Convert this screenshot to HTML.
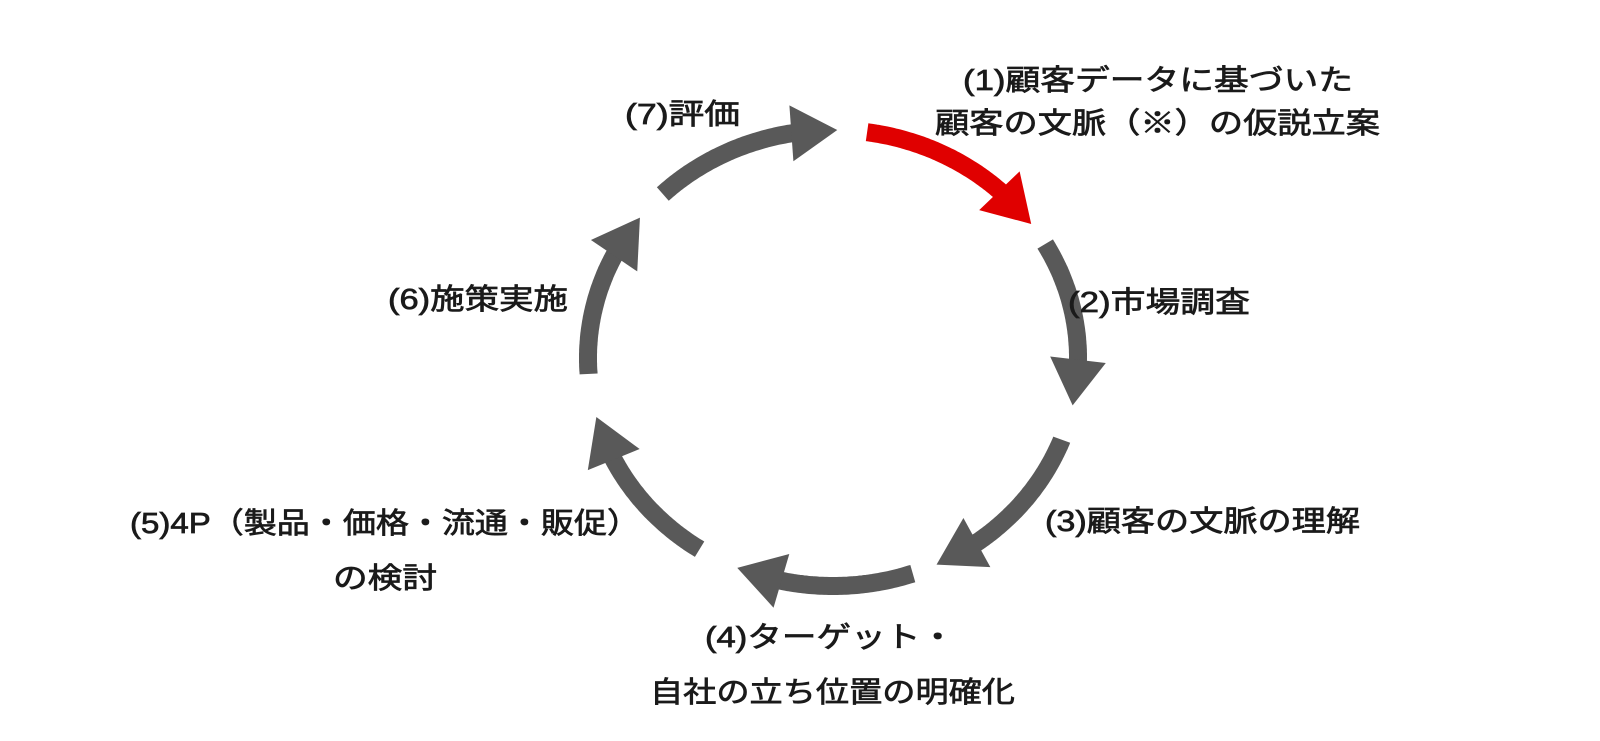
<!DOCTYPE html>
<html><head><meta charset="utf-8"><style>
html,body{margin:0;padding:0;background:#fff;}
svg{display:block;}
text{font-family:"Liberation Sans","Noto Sans CJK JP",sans-serif;font-size:29px;font-weight:normal;fill:#1a1a1a;stroke:#1a1a1a;stroke-width:0.7px;}
</style></head><body>
<svg id="s" width="1600" height="741" viewBox="0 0 1600 741" xmlns="http://www.w3.org/2000/svg">
<g id="arrows"></g>
<text x="963" y="90" textLength="390" lengthAdjust="spacingAndGlyphs">(1)顧客データに基づいた</text>
<text x="935" y="133" textLength="445" lengthAdjust="spacingAndGlyphs">顧客の文脈（※）の仮説立案</text>
<text x="625" y="124" textLength="115" lengthAdjust="spacingAndGlyphs">(7)評価</text>
<text x="1068" y="312" textLength="182" lengthAdjust="spacingAndGlyphs">(2)市場調査</text>
<text x="388" y="309" textLength="180" lengthAdjust="spacingAndGlyphs">(6)施策実施</text>
<text x="1045" y="531" textLength="315" lengthAdjust="spacingAndGlyphs">(3)顧客の文脈の理解</text>
<text x="130" y="533" textLength="510" lengthAdjust="spacingAndGlyphs">(5)4P（製品・価格・流通・販促）</text>
<text x="333" y="588" textLength="104" lengthAdjust="spacingAndGlyphs">の検討</text>
<text x="705" y="647" textLength="250" lengthAdjust="spacingAndGlyphs">(4)ターゲット・</text>
<text x="650" y="702" textLength="365" lengthAdjust="spacingAndGlyphs">自社の立ち位置の明確化</text>
</svg>
<script>
(function(){
var cx=833,cy=358,rx=245,ry=228,sw=18,hl=46,hw=28;
var segs=[[-82,-36,'#e00000'],[-30,12,'#595959'],[21,65,'#595959'],[71,113,'#595959'],[123,165,'#595959'],[176,218,'#595959'],[226,271,'#595959']];
function P(t){var r=t*Math.PI/180;return [cx+rx*Math.cos(r),cy+ry*Math.sin(r)];}
var g=document.getElementById('arrows'),out='';
segs.forEach(function(s){
  var a=s[0],b=s[1],tip=P(b);
  var t=b;while(t>a){t-=0.2;var q=P(t);if(Math.hypot(q[0]-tip[0],q[1]-tip[1])>=hl)break;}
  var d='';for(var u=a;u<=t;u+=0.5){var p=P(u);d+=(d?'L':'M')+p[0].toFixed(1)+' '+p[1].toFixed(1);}
  var e=P(t+1.5);d+='L'+e[0].toFixed(1)+' '+e[1].toFixed(1);
  out+='<path d="'+d+'" fill="none" stroke="'+s[2]+'" stroke-width="'+sw+'"/>';
  var f=P(t);
  var dx=tip[0]-f[0],dy=tip[1]-f[1],L=Math.hypot(dx,dy);dx/=L;dy/=L;
  var bx=tip[0]-dx*hl,by=tip[1]-dy*hl;
  var p1=[bx-dy*hw,by+dx*hw],p2=[bx+dy*hw,by-dx*hw];
  out+='<polygon points="'+tip.join(',')+' '+p1.join(',')+' '+p2.join(',')+'" fill="'+s[2]+'"/>';
});
g.innerHTML=out;
})();
</script>
</body></html>
